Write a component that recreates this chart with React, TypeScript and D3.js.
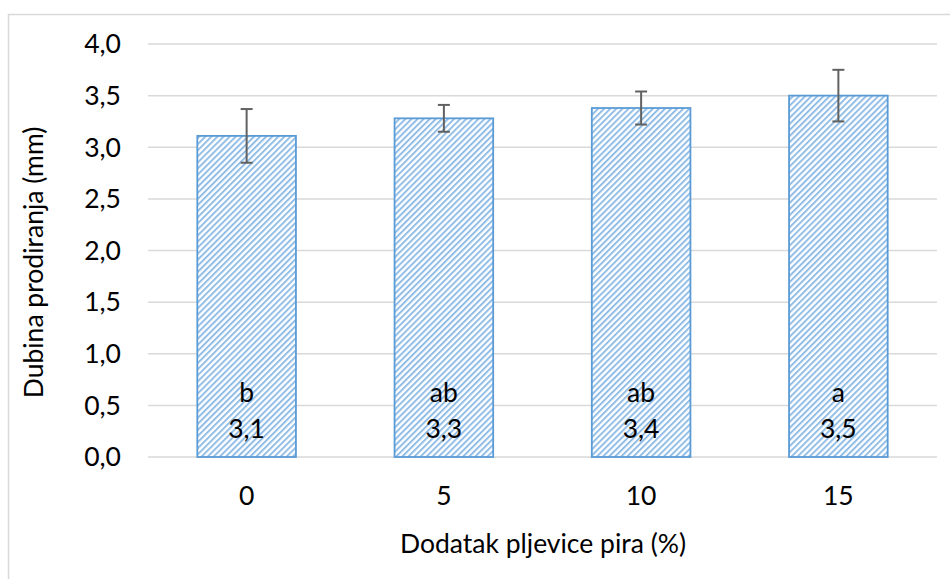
import React from 'react';
import * as d3 from 'd3';

const categories = ['0', '5', '10', '15'];
const values = [3.11, 3.28, 3.38, 3.5];
const errors = [0.26, 0.13, 0.16, 0.25];
const letters = ['b', 'ab', 'ab', 'a'];
const valueLabels = ['3,1', '3,3', '3,4', '3,5'];
const yTicks = [0, 0.5, 1, 1.5, 2, 2.5, 3, 3.5, 4];

const W = 950, H = 579;
const left = 148, right = 937, top = 44, bottom = 457;
const FONT = 'Lato, "Open Sans", sans-serif';
const FS = 26.5;

export default function App() {
  const x = d3.scaleBand<string>().domain(categories).range([left, right]).paddingInner(0.5).paddingOuter(0.25);
  const y = d3.scaleLinear().domain([0, 4]).range([bottom, top]);
  const fmt = (v: number) => d3.format('.1f')(v).replace('.', ',');
  return (
    <svg width={W} height={H} style={{ position: 'absolute', left: 0, top: 0, background: '#fff' }}>
      <defs>
        <pattern id="hatch" patternUnits="userSpaceOnUse" width={4.3} height={4.3} patternTransform="rotate(45)">
          <rect width={4.3} height={4.3} fill="#fff" />
          <line x1={1} y1={0} x2={1} y2={4.3} stroke="#8dbbe6" strokeWidth={1.9} />
        </pattern>
      </defs>
      <rect x={8.5} y={14.5} width={1000} height={1000} fill="none" stroke="#d9d9d9" strokeWidth={1.5} />
      {yTicks.map((t) => (
        <g key={t}>
          <line x1={left} x2={right} y1={y(t)} y2={y(t)} stroke="#d9d9d9" strokeWidth={1.5} />
          <text x={121} y={y(t)} dy="0.35em" textAnchor="end" fontFamily={FONT} fontSize={FS} fill="#000">{fmt(t)}</text>
        </g>
      ))}
      {categories.map((c, i) => {
        const bx = x(c)!;
        const bw = x.bandwidth();
        const cx = bx + bw / 2;
        return (
          <g key={c}>
            <rect x={bx} y={y(values[i])} width={bw} height={y(0) - y(values[i])} fill="url(#hatch)" stroke="#5b9bd5" strokeWidth={1.8} />
            <line x1={cx} x2={cx} y1={y(values[i] + errors[i])} y2={y(values[i] - errors[i])} stroke="#616161" strokeWidth={2} />
            <line x1={cx - 6} x2={cx + 6} y1={y(values[i] + errors[i])} y2={y(values[i] + errors[i])} stroke="#616161" strokeWidth={2} />
            <line x1={cx - 6} x2={cx + 6} y1={y(values[i] - errors[i])} y2={y(values[i] - errors[i])} stroke="#616161" strokeWidth={2} />
            <text x={cx} y={402} textAnchor="middle" fontFamily={FONT} fontSize={FS} fill="#000">{letters[i]}</text>
            <text x={cx} y={438} textAnchor="middle" fontFamily={FONT} fontSize={FS} fill="#000">{valueLabels[i]}</text>
            <text x={cx} y={505} textAnchor="middle" fontFamily={FONT} fontSize={FS} fill="#000">{c}</text>
          </g>
        );
      })}
      <text x={543} y={553} textAnchor="middle" fontFamily={FONT} fontSize={FS} fill="#000">Dodatak pljevice pira (%)</text>
      <text transform={`translate(43,${(top + bottom) / 2 + 12}) rotate(-90)`} textAnchor="middle" fontFamily={FONT} fontSize={FS} fill="#000">Dubina prodiranja (mm)</text>
    </svg>
  );
}
